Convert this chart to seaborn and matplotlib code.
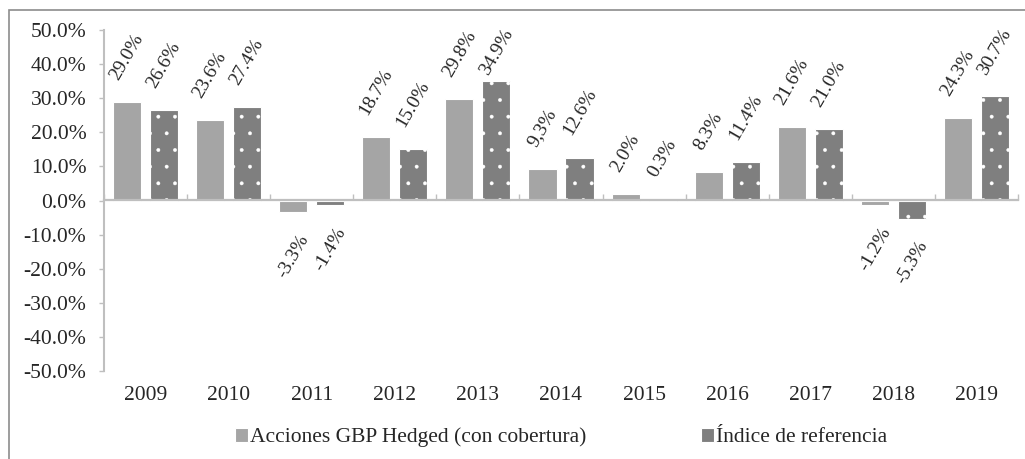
#!/usr/bin/env python
# coding: utf-8
import matplotlib
matplotlib.use("Agg")
import matplotlib.pyplot as plt
import pandas as pd
import seaborn as sns
from matplotlib.patches import Rectangle
from matplotlib.ticker import FuncFormatter

years = ["2009", "2010", "2011", "2012", "2013", "2014", "2015", "2016", "2017", "2018", "2019"]
series = ["Acciones GBP Hedged (con cobertura)", "Índice de referencia"]
fund = [29.0, 23.6, -3.3, 18.7, 29.8, 9.3, 2.0, 8.3, 21.6, -1.2, 24.3]
index = [26.6, 27.4, -1.4, 15.0, 34.9, 12.6, 0.3, 11.4, 21.0, -5.3, 30.7]
fund_labels = ["29.0%", "23.6%", "-3.3%", "18.7%", "29.8%", "9,3%", "2.0%", "8.3%", "21.6%", "-1.2%", "24.3%"]
index_labels = ["26.6%", "27.4%", "-1.4%", "15.0%", "34.9%", "12.6%", "0.3%", "11.4%", "21.0%", "-5.3%", "30.7%"]

LIGHT = "#a5a5a5"
DARK = "#7f7f7f"
AXIS = "#bfbfbf"
FS = 15.5


def plot(fname: str) -> None:
    sns.set_style("white")
    plt.rcParams["font.family"] = ["Liberation Serif", "DejaVu Serif"]
    plt.rcParams["hatch.linewidth"] = 0.3

    df = pd.DataFrame({
        "year": years * 2,
        "series": [series[0]] * len(years) + [series[1]] * len(years),
        "value": fund + index,
    })

    fig = plt.figure(figsize=(10.25, 4.59), dpi=100)
    ax = fig.add_axes([104 / 1025, 1 - 371 / 459, 914 / 1025, 341 / 459])

    sns.barplot(
        data=df, x="year", y="value", hue="series",
        palette=[LIGHT, DARK], width=0.89, gap=0.24,
        edgecolor="white", linewidth=0.8, saturation=1,
        ax=ax, legend=True,
    )
    for bar in ax.containers[1]:
        bar.set_hatch(".")

    ax.set_ylim(-50, 50)
    ax.set_xlim(-0.5, len(years) - 0.5)
    ax.set_yticks(range(-50, 51, 10))
    ax.yaxis.set_major_formatter(FuncFormatter(lambda v, _: f"{v:.1f}%"))
    ax.set_xlabel("")
    ax.set_ylabel("")
    for s in ["top", "right", "bottom"]:
        ax.spines[s].set_visible(False)
    ax.spines["left"].set_color(AXIS)
    ax.spines["left"].set_linewidth(1.5)
    ax.tick_params(axis="y", left=True, direction="out", length=3.6, width=1,
                   color=AXIS, labelsize=FS, pad=9)
    ax.tick_params(axis="x", bottom=False, length=0, labelsize=FS, pad=11)

    # zero line with category separators, drawn over the bars
    sec = ax.secondary_xaxis(0.5)
    sec.set_zorder(3)
    sec.set_xticks([i - 0.5 for i in range(len(years) + 1)])
    sec.tick_params(direction="out", length=4.5, width=1, color=AXIS,
                    labelbottom=False, labeltop=False)
    for sp in sec.spines.values():
        sp.set_color(AXIS)
        sp.set_linewidth(1.6)

    # rotated value labels
    for cont, labels, vals in zip(ax.containers, [fund_labels, index_labels], [fund, index]):
        for bar, lab, v in zip(cont, labels, vals):
            x = bar.get_x() + bar.get_width() / 2
            if v >= 0:
                ax.text(x, min(v + 5.6, 36.0), lab, rotation=60, ha="center", va="bottom",
                        fontsize=14)
            else:
                ax.text(x, v - 5.8, lab, rotation=60, ha="center", va="top", fontsize=14)

    handles, labels = ax.get_legend_handles_labels()
    ax.legend(handles, labels, loc="center", bbox_to_anchor=(0.5, -0.195),
              ncol=2, frameon=False, fontsize=FS, handlelength=0.6, handleheight=0.6,
              handletextpad=0.1, columnspacing=5.3, borderaxespad=0)

    fig.patches.append(Rectangle((9 / 1025, -0.2), 1.1, 1.2 - 10.5 / 459,
                                 transform=fig.transFigure, fill=False,
                                 edgecolor="#8c8c8c", linewidth=1.2))

    plt.savefig(fname, dpi=100)


if __name__ == "__main__":
    plot("out.png")
